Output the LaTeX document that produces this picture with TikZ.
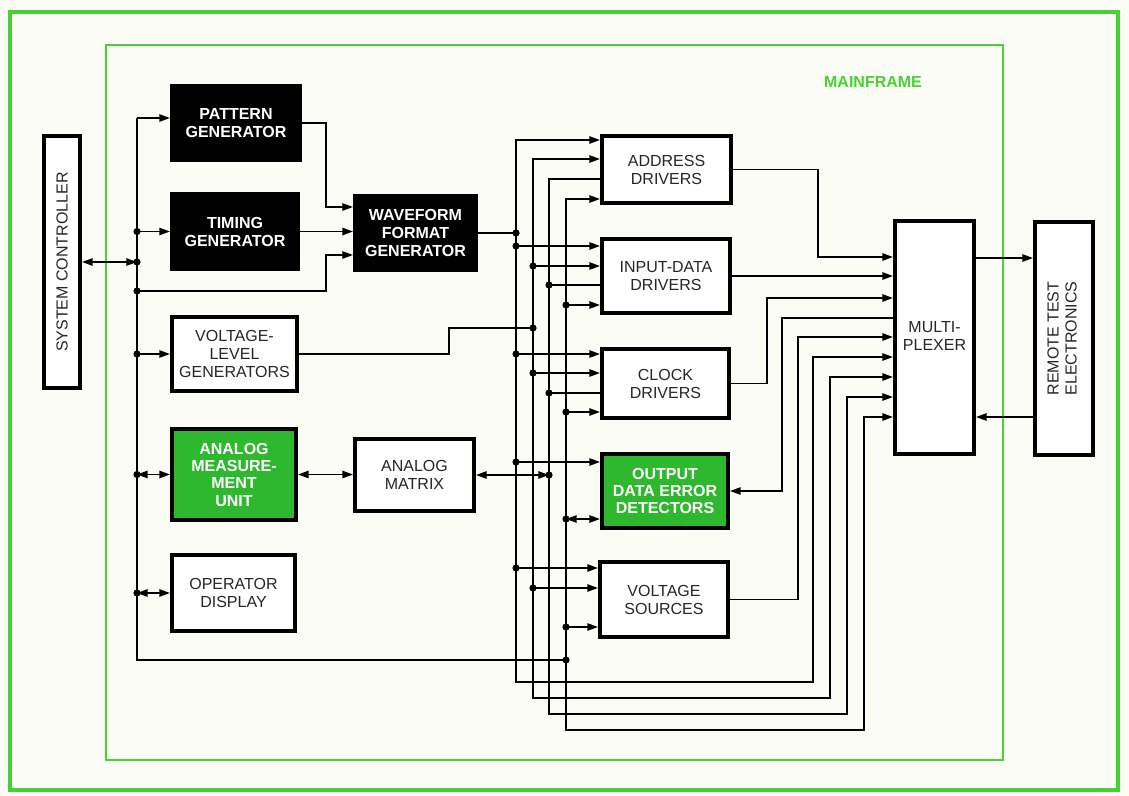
\documentclass[tikz,border=0pt]{standalone}
\usepackage{fontspec}
\setmainfont{Liberation Sans}
\usetikzlibrary{arrows.meta}
\definecolor{framec}{HTML}{46D232}
\definecolor{gfill}{HTML}{2DB82D}
\definecolor{txt}{HTML}{262626}
\definecolor{bg}{HTML}{FCFCF7}
\begin{document}
\begin{tikzpicture}[x=0.75pt,y=-0.75pt,
  box/.style={draw=black,line width=3pt,inner sep=0pt,align=center},
  dark/.style={box,fill=black,text=white,font=\bfseries\fontsize{12}{13.5}\selectfont},
  light/.style={box,fill=white,text=txt,font=\fontsize{12}{13.5}\selectfont},
  gbx/.style={box,fill=gfill,text=white,font=\bfseries\fontsize{12}{13}\selectfont},
  sz/.style 2 args={minimum width={#1*0.75pt-3pt},minimum height={#2*0.75pt-3pt}},
  wire/.style={line width=1.3pt},
  arr/.style={wire,-{Triangle[length=8pt,width=5.5pt]}},
  barr/.style={wire,{Triangle[length=8pt,width=5.5pt]}-{Triangle[length=8pt,width=5.5pt]}}
]
\useasboundingbox[fill=bg] (0,0) rectangle (1129,796);
% frames
\draw[draw=framec,line width=2.5pt] (10,12) rectangle (1118,790);
\draw[draw=framec,line width=1.8pt] (106,45) rectangle (1003,760);
\node[text=framec,font=\bfseries\fontsize{12}{13}\selectfont] (mf) at (873,82) {MAINFRAME};

% boxes
\node[light,sz={40}{256}] (sc) at (62,262) {\rotatebox{90}{SYSTEM CONTROLLER}};
\node[dark,sz={132}{78}] (pg) at (236,123) {PATTERN\\GENERATOR};
\node[dark,sz={130}{79}] (tg) at (235,231.5) {TIMING\\GENERATOR};
\node[dark,sz={125}{78}] (wf) at (415.5,233) {WAVEFORM\\FORMAT\\GENERATOR};
\node[light,sz={129}{78}] (vl) at (234.5,354) {VOLTAGE-\\LEVEL\\GENERATORS};
\node[gbx,sz={128}{95}] (amu) at (234,474.5) {ANALOG\\MEASURE-\\MENT\\UNIT};
\node[light,sz={123}{76}] (am) at (414.5,475) {ANALOG\\MATRIX};
\node[light,sz={127}{80}] (od) at (233.5,593) {OPERATOR\\DISPLAY};
\node[light,sz={133}{71}] (ad) at (666.5,169.5) {ADDRESS\\DRIVERS};
\node[light,sz={132}{78}] (id) at (666,276) {INPUT-DATA\\DRIVERS};
\node[light,sz={131}{73}] (cd) at (665.5,383.5) {CLOCK\\DRIVERS};
\node[gbx,sz={130}{78}] (oded) at (665,491) {OUTPUT\\DATA ERROR\\DETECTORS};
\node[light,sz={132}{79}] (vs) at (664,599.5) {VOLTAGE\\SOURCES};
\node[light,sz={83}{237}] (mux) at (934.5,337.5) {\raisebox{4.5pt}{\begin{tabular}{@{}c@{}}MULTI-\\PLEXER\end{tabular}}};
\node[light,sz={62}{237}] (rte) at (1064,338.5) {\rotatebox{90}{\begin{tabular}{@{}c@{}}REMOTE TEST\\ELECTRONICS\end{tabular}}};

% left bus
\coordinate (Btop) at (137,118);
\coordinate (Bbot) at (137,660);
\coordinate (L4j) at (566,660);
\draw[wire] (Btop) -- (Bbot) -- (L4j);
\draw[arr] (Btop) -- (Btop -| pg.west);
\coordinate (Btg) at (137,231.5);
\draw[arr] (Btg) -- (Btg -| tg.west);
\coordinate (Bsc) at (137,262);
\draw[barr] (sc.east) -- (Bsc);
\coordinate (Bwf) at (137,291);
\coordinate (Wk) at (326,291);
\coordinate (Wk2) at (326,255);
\draw[arr] (Bwf) -- (Wk) -- (Wk2) -- (Wk2 -| wf.west);
\coordinate (Bvl) at (137,354);
\draw[arr] (Bvl) -- (vl.west);
\coordinate (Bamu) at (137,474.5);
\draw[barr] (Bamu) -- (amu.west);
\coordinate (Bod) at (137,593);
\draw[barr] (Bod) -- (od.west);
\foreach \p in {Btg,Bsc,Bwf,Bvl,Bamu,Bod} {\fill (\p) circle (2.7pt);}

% generator links
\coordinate (Pk) at (326,207);
\draw[arr] (pg.east) -| (Pk) -- (Pk -| wf.west);
\draw[arr] (tg.east) -- (tg.east -| wf.west);
\coordinate (J1) at (516,233);
\draw[wire] (wf.east) -- (J1);
\coordinate (V1) at (449,354);
\coordinate (V2) at (449,328);
\coordinate (J2) at (533,328);
\draw[wire] (vl.east) -- (V1) -- (V2) -- (J2);
\draw[barr] (amu.east) -- (amu.east -| am.west);
\coordinate (J3) at (549,475);
\draw[barr] (am.east) -- (J3);
\foreach \p in {J1,J2,J3,L4j} {\fill (\p) circle (2.7pt);}

% four bus lines
\foreach \x/\t/\b/\r/\m/\s in {516/140/682/813/357/barr, 533/159/698/830/377/barr, 549/179/714/847/397/arr, 566/199/730/864/417/barr}
{
  \coordinate (T) at (\x,\t);
  \coordinate (M) at (\r,\m);
  \draw[\s] (T -| ad.west) -- (T) -- (\x,\b) -- (\r,\b) -- (M) -- (M -| mux.west);
}

% branches to driver boxes
\foreach \x/\y/\n/\s in {516/246/id/arr, 533/266/id/arr, 549/285/id/wire, 566/305/id/arr,
  516/354/cd/arr, 533/373/cd/arr, 549/393/cd/wire, 566/412/cd/arr,
  516/462/oded/arr, 566/519/oded/barr,
  516/568/vs/arr, 533/588/vs/arr, 566/627/vs/arr}
{
  \coordinate (Q) at (\x,\y);
  \draw[\s] (Q) -- (Q -| \n.west);
  \fill (Q) circle (2.7pt);
}

% outputs to multiplexer
\coordinate (Ma) at (818,257);
\draw[arr] (ad.east) -| (Ma) -- (Ma -| mux.west);
\draw[arr] (id.east) -- (id.east -| mux.west);
\coordinate (Mc) at (767,298);
\draw[arr] (cd.east) -| (Mc) -- (Mc -| mux.west);
\coordinate (Mo) at (782,318);
\draw[arr] (Mo -| mux.west) -- (Mo) |- (oded.east);
\coordinate (Mv) at (798,337);
\draw[arr] (vs.east) -| (Mv) -- (Mv -| mux.west);
\coordinate (R1) at (1000,258);
\draw[arr] (R1 -| mux.east) -- (R1 -| rte.west);
\coordinate (R2) at (1000,417);
\draw[arr] (R2 -| rte.west) -- (R2 -| mux.east);
\end{tikzpicture}
\end{document}
